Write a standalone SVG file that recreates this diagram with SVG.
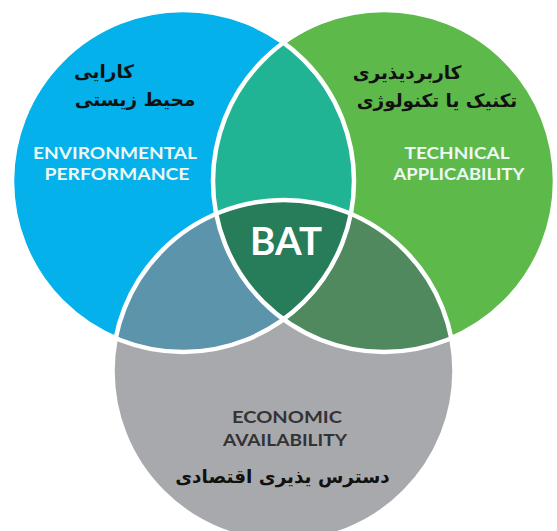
<svg xmlns="http://www.w3.org/2000/svg" width="557" height="531" viewBox="0 0 557 531">
<style>
.fa{font-family:"DejaVu Sans",sans-serif;font-weight:bold;font-size:18.4px;fill:#111;text-anchor:middle}
.en{font-family:Lato,"Liberation Sans",sans-serif;font-weight:bold;font-size:17px;text-anchor:middle}
.lt{fill:#eef8f4}
.dk{fill:#333335}
.edge{fill:none;stroke:#fff;stroke-width:4.5}
</style>
<defs>
<clipPath id="cB"><circle cx="183" cy="181" r="171"/></clipPath>
<clipPath id="cG"><circle cx="384" cy="181" r="171"/></clipPath>
</defs>
<rect width="557" height="531" fill="#fff"/>
<g id="environmental"><circle cx="183" cy="181" r="171" fill="#04b1eb"/></g>
<g id="technical"><circle cx="384" cy="181" r="171" fill="#5eb94b"/></g>
<g id="economic"><circle cx="283.5" cy="371" r="171" fill="#a8a9ac"/></g>
<g id="overlaps">
<circle cx="384" cy="181" r="171" fill="#20b495" clip-path="url(#cB)"/>
<circle cx="283.5" cy="371" r="171" fill="#5b94ab" clip-path="url(#cB)"/>
<circle cx="283.5" cy="371" r="171" fill="#4f895d" clip-path="url(#cG)"/>
</g>
<g id="bat"><g clip-path="url(#cB)"><circle cx="283.5" cy="371" r="171" fill="#277c5a" clip-path="url(#cG)"/></g></g>
<g id="outlines">
<circle class="edge" cx="183" cy="181" r="171"/>
<circle class="edge" cx="384" cy="181" r="171"/>
<circle class="edge" cx="283.5" cy="371" r="171"/>
</g>
<g id="labels">
<text class="fa" x="104" y="78">کارایی</text>
<text class="fa" x="135" y="106">محیط زیستی</text>
<text class="en lt" x="115" y="159" textLength="164" lengthAdjust="spacingAndGlyphs">ENVIRONMENTAL</text>
<text class="en lt" x="117" y="180" textLength="145" lengthAdjust="spacingAndGlyphs">PERFORMANCE</text>
<text class="fa" x="407" y="79">کاربردیذیری</text>
<text class="fa" x="437" y="107">تکنیک یا تکنولوژی</text>
<text class="en lt" x="457" y="159" textLength="105" lengthAdjust="spacingAndGlyphs">TECHNICAL</text>
<text class="en lt" x="459" y="180" textLength="131" lengthAdjust="spacingAndGlyphs">APPLICABILITY</text>
<text x="286" y="255" font-family="Lato,'Liberation Sans',sans-serif" font-weight="bold" font-size="39" fill="#fff" text-anchor="middle" textLength="72" lengthAdjust="spacingAndGlyphs">BAT</text>
<text class="en dk" x="287" y="423" textLength="110" lengthAdjust="spacingAndGlyphs">ECONOMIC</text>
<text class="en dk" x="285" y="446" textLength="124" lengthAdjust="spacingAndGlyphs">AVAILABILITY</text>
<text class="fa" x="282.5" y="483">دسترس یذیری اقتصادی</text>
</g>
</svg>
